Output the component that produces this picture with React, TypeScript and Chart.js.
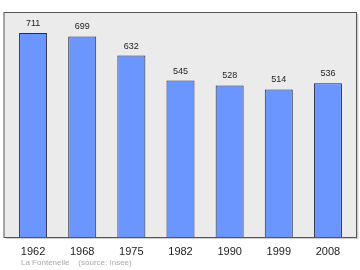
import React, { useEffect, useRef } from "react";
import { Chart, registerables } from "chart.js";

Chart.register(...registerables);

const years = ["1962", "1968", "1975", "1982", "1990", "1999", "2008"];
const population = [711, 699, 632, 545, 528, 514, 536];
const sourceText = "La Fontenelle    (source: Insee)";

const FONT = "'Liberation Sans', Arial, sans-serif";

const framePlugin = {
  id: "frame",
  beforeDatasetsDraw(chart: any) {
    const { ctx, chartArea } = chart;
    const l = chartArea.left - 4.5;
    const r = chartArea.right + 4;
    const t = chartArea.top;
    const b = chartArea.bottom;
    ctx.save();
    ctx.fillStyle = "#cfcfcf";
    ctx.fillRect(l + 2, t + 2, r - l, b - t);
    ctx.fillStyle = "#ebebeb";
    ctx.fillRect(l, t, r - l, b - t);
    ctx.strokeStyle = "#555555";
    ctx.lineWidth = 1;
    ctx.strokeRect(l, t + 0.5, r - l, b - t);
    ctx.restore();
  },
  afterDatasetsDraw(chart: any) {
    const { ctx } = chart;
    const meta = chart.getDatasetMeta(0);
    ctx.save();
    ctx.fillStyle = "#222222";
    ctx.font = `9px ${FONT}`;
    ctx.textAlign = "center";
    ctx.textBaseline = "middle";
    meta.data.forEach((el: any, i: number) => {
      ctx.fillText(String(population[i]), el.x, el.y - 9.5);
    });
    ctx.fillStyle = "#aaaaaa";
    ctx.font = `8px ${FONT}`;
    ctx.textAlign = "left";
    ctx.fillText(sourceText, 21, 262.5);
    ctx.restore();
  },
};

export default function App() {
  const ref = useRef<HTMLCanvasElement | null>(null);
  useEffect(() => {
    if (!ref.current) return;
    const chart = new Chart(ref.current, {
      type: "bar",
      data: {
        labels: years,
        datasets: [
          {
            data: population,
            backgroundColor: "#6b96ff",
            borderColor: "#2a2a3a",
            borderWidth: 1,
            borderSkipped: "bottom",
            barPercentage: 0.57,
            categoryPercentage: 1,
          },
        ],
      },
      options: {
        animation: false,
        responsive: false,
        maintainAspectRatio: false,
        layout: { padding: { left: 8.5, right: 7.5, top: 12, bottom: 14 } },
        plugins: { legend: { display: false }, tooltip: { enabled: false } },
        scales: {
          y: { display: false, min: 0, max: 784 },
          x: {
            grid: { display: false, drawTicks: false },
            border: { display: false },
            ticks: {
              color: "#222222",
              padding: 8.5,
              font: { size: 11, family: FONT },
            },
            afterFit(scale: any) {
              scale.height = 19;
            },
          },
        },
      },
      plugins: [framePlugin],
    });
    return () => chart.destroy();
  }, []);
  return (
    <div style={{ position: "fixed", left: 0, top: 0, width: 360, height: 270, background: "#ffffff" }}>
      <canvas ref={ref} width={360} height={270} style={{ width: 360, height: 270 }} />
    </div>
  );
}
